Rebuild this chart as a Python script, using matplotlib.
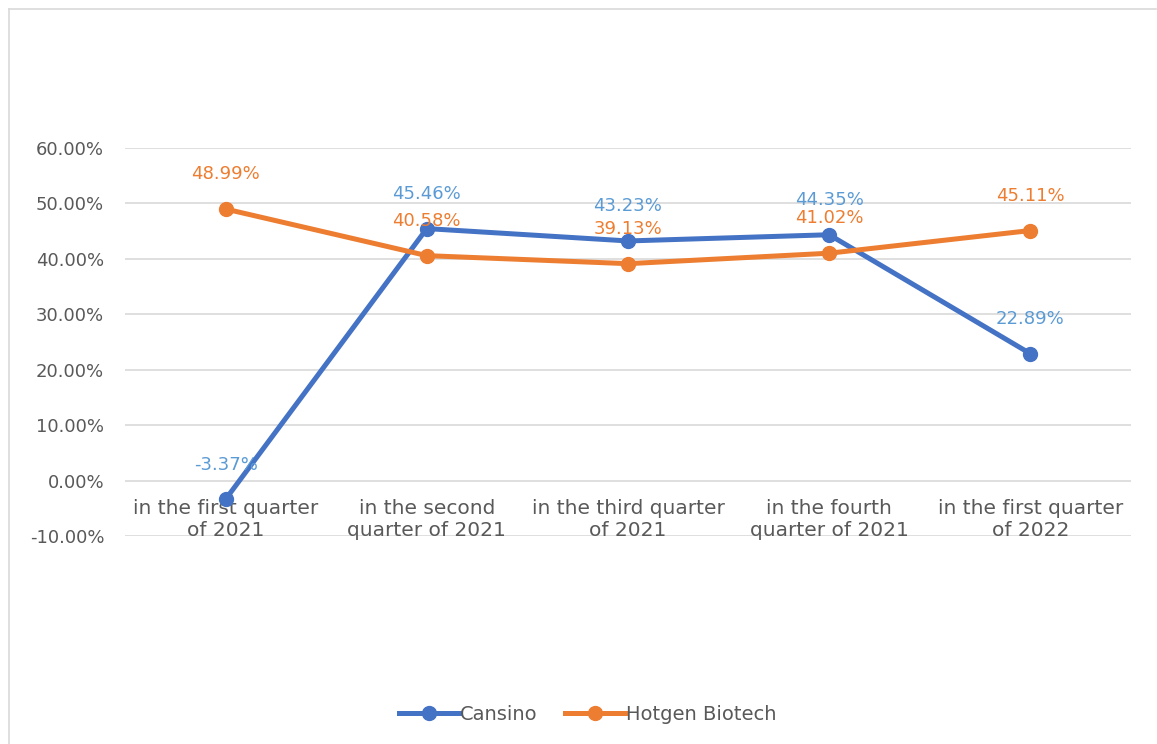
import matplotlib
matplotlib.use("Agg")
import matplotlib.pyplot as plt
from matplotlib.lines import Line2D
from matplotlib.ticker import FuncFormatter

plt.rcParams['font.family'] = ['DejaVu Sans']

categories = ["in the first quarter\nof 2021", "in the second\nquarter of 2021",
              "in the third quarter\nof 2021", "in the fourth\nquarter of 2021",
              "in the first quarter\nof 2022"]
cansino = [-3.37, 45.46, 43.23, 44.35, 22.89]
hotgen = [48.99, 40.58, 39.13, 41.02, 45.11]
series_names = ["Cansino", "Hotgen Biotech"]

line_colors = ["#4472C4", "#ED7D31"]
label_colors = ["#5B9BD5", "#ED7D31"]
gray = "#595959"
fs = 13

fig = plt.figure(figsize=(11.57, 7.44), dpi=100)
ax = fig.add_axes([125/1157, 1-536/744, (1131-125)/1157, (536-148)/744])

x = list(range(len(categories)))
for vals, name, lc, tc in zip([cansino, hotgen], series_names, line_colors, label_colors):
    ax.plot(x, vals, color=lc, lw=3.6, marker='o', ms=10, label=name, solid_capstyle='round', zorder=3)
    for xi, v in zip(x, vals):
        ax.annotate(f"{v:.2f}%", xy=(xi, v), xytext=(0, 25), textcoords='offset points',
                    ha='center', va='center', color=tc, fontsize=fs, zorder=4)

ax.set_xlim(-0.5, len(categories) - 0.5)
ax.set_ylim(-10, 60)
ax.set_yticks(range(-10, 61, 10))
ax.yaxis.set_major_formatter(FuncFormatter(lambda v, p: f"{v:.2f}%"))
ax.tick_params(axis='y', length=0, labelsize=fs, labelcolor=gray, pad=15)
ax.set_xticks([])
ax.grid(axis='y', color='#D9D9D9', lw=1.2)
ax.set_axisbelow(True)
for s in ax.spines.values():
    s.set_visible(False)

for xi, c in zip(x, categories):
    ax.annotate(c, xy=(xi, 0), xytext=(0, -13), textcoords='offset points',
                ha='center', va='top', color=gray, fontsize=14.5, linespacing=1.25, zorder=2)

handles = [Line2D([], [], color=c, lw=3.6, marker='o', ms=10) for c in line_colors]
leg = fig.legend(handles, series_names, loc='center', bbox_to_anchor=(588/1157, 1-714/744),
                 ncol=2, frameon=False, fontsize=14, handlelength=3.1, columnspacing=1.4,
                 handletextpad=0.05)
for t in leg.get_texts():
    t.set_color(gray)

# chart border
fig.add_artist(Line2D([9/1157, 0.9995], [1-9/744, 1-9/744], color='#D9D9D9', lw=1.2))
fig.add_artist(Line2D([9/1157, 9/1157], [0, 1-9/744], color='#D9D9D9', lw=1.2))

fig.savefig("out.png", dpi=100)
